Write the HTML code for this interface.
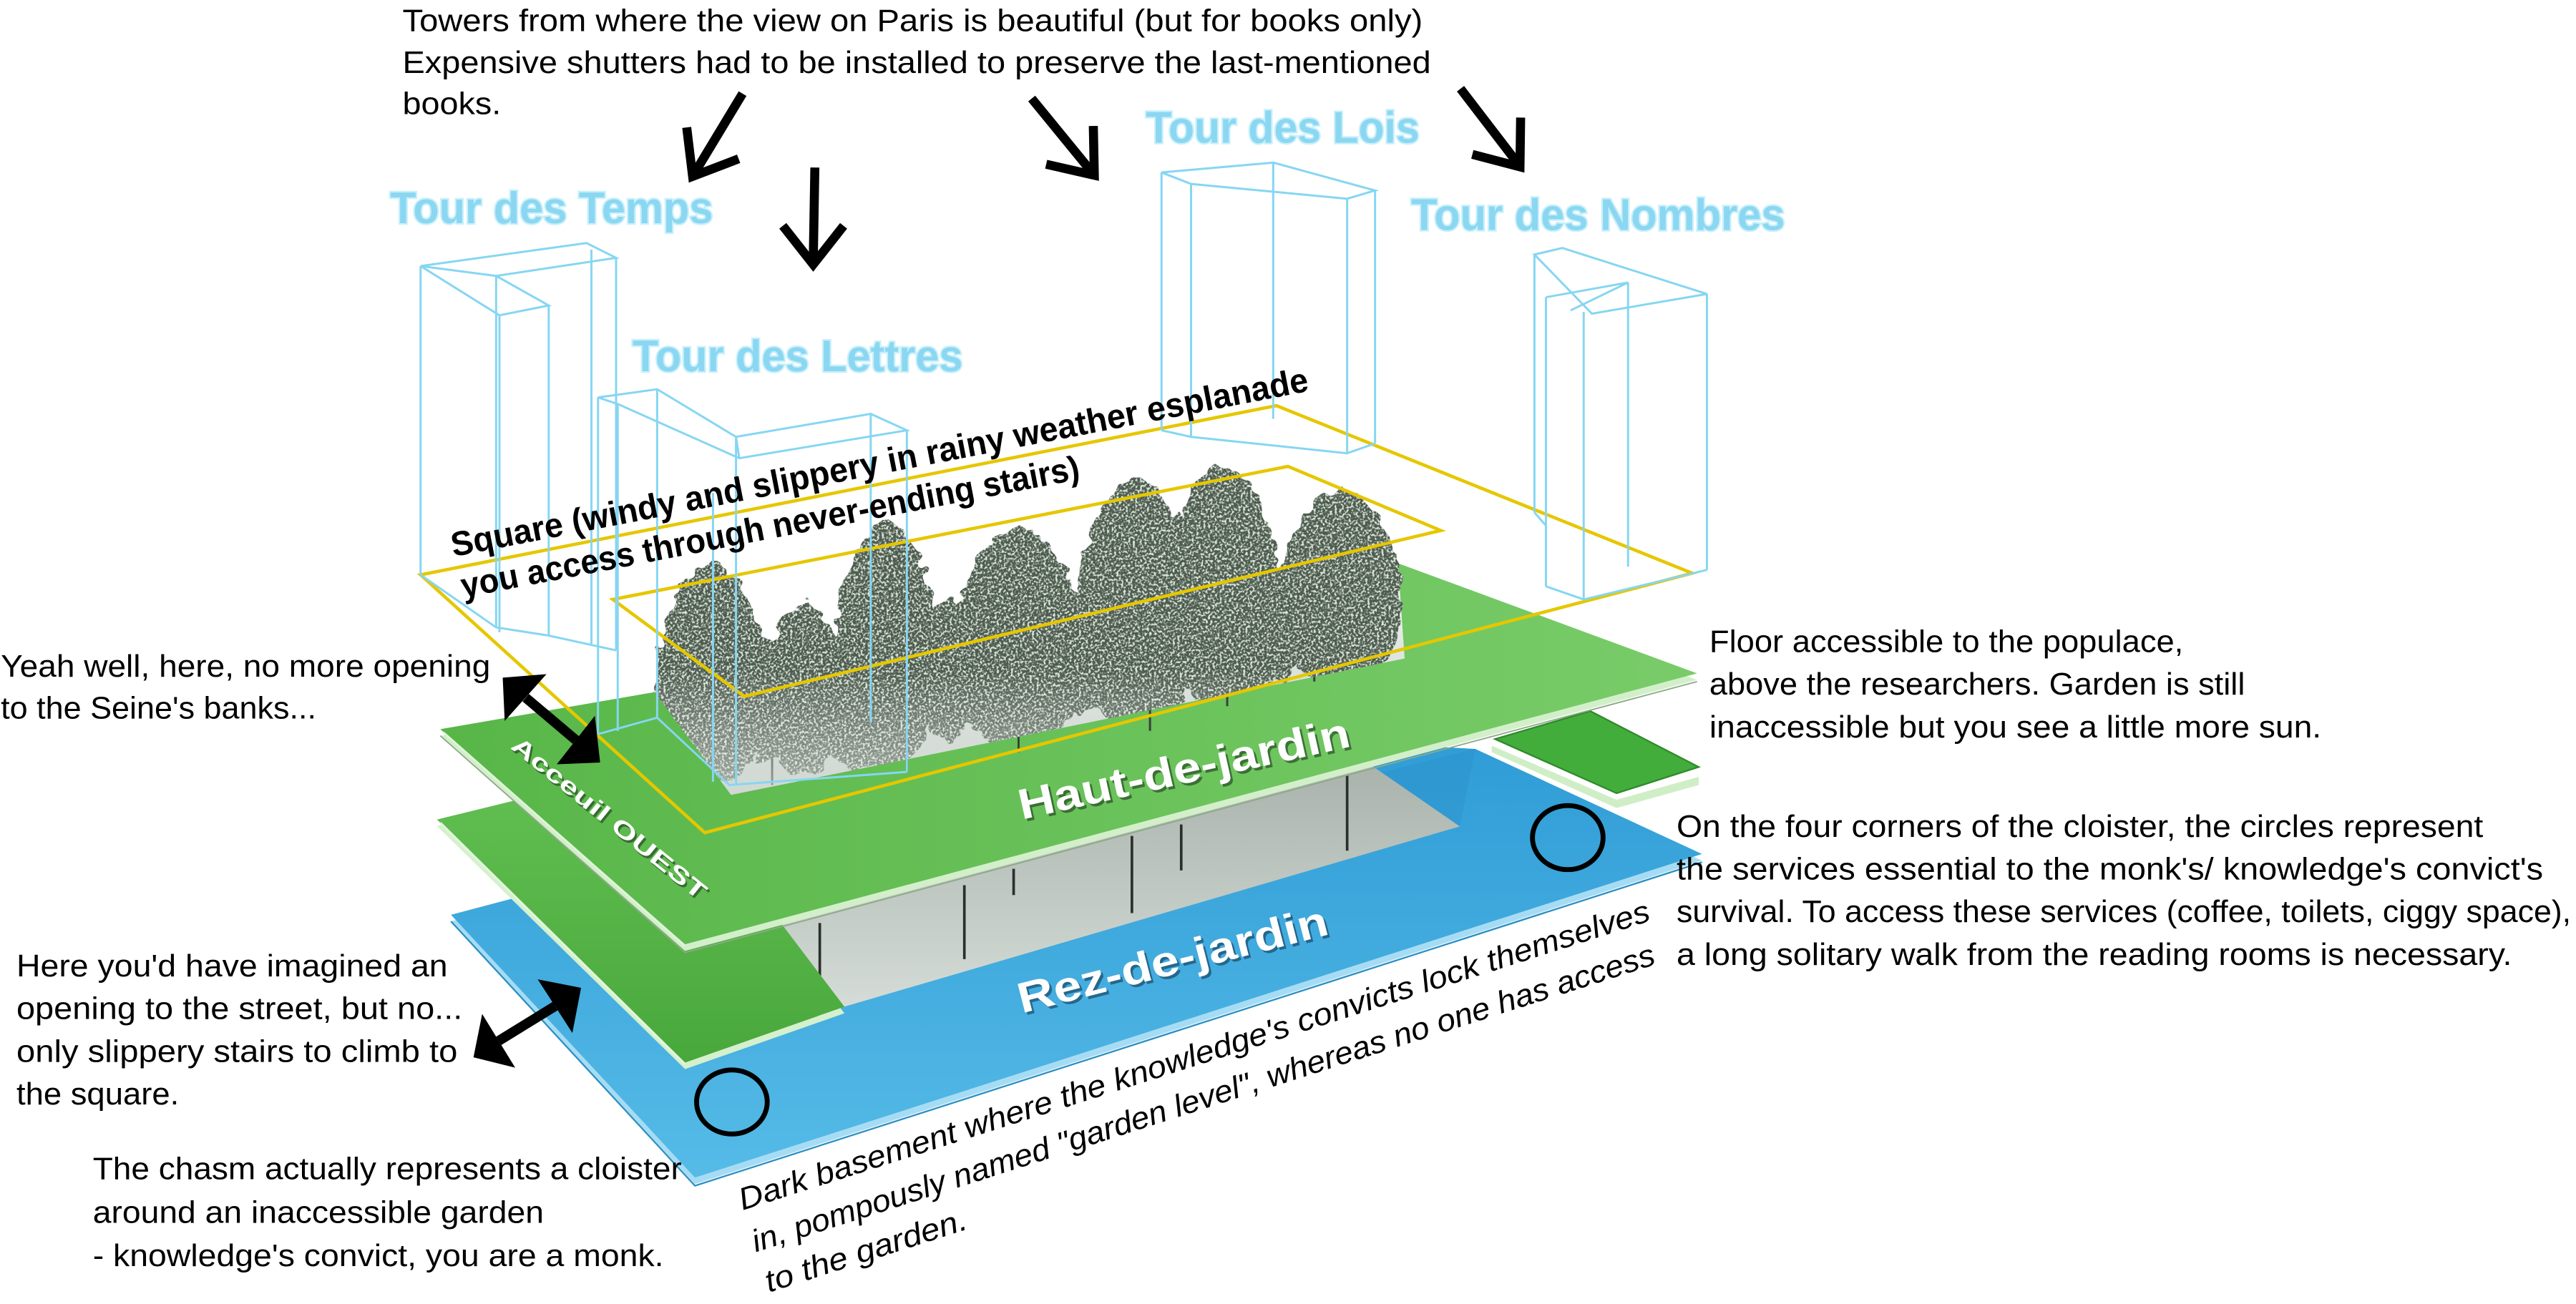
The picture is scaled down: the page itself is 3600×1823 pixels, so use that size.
<!DOCTYPE html>
<html><head><meta charset="utf-8"><style>html,body{margin:0;padding:0;background:#fff}svg{display:block}</style></head><body>
<svg xmlns="http://www.w3.org/2000/svg" width="3600" height="1823" viewBox="0 0 1568 794" preserveAspectRatio="none">
<defs>
<linearGradient id="gBlue" gradientUnits="userSpaceOnUse" x1="0" y1="450" x2="0" y2="720"><stop offset="0" stop-color="#2f9cd6"/><stop offset="1" stop-color="#56bbe7"/></linearGradient>
<linearGradient id="gUp" gradientUnits="userSpaceOnUse" x1="268" y1="0" x2="1033" y2="0"><stop offset="0" stop-color="#58b648"/><stop offset="1" stop-color="#79cc69"/></linearGradient>
<linearGradient id="gLow" gradientUnits="userSpaceOnUse" x1="0" y1="490" x2="0" y2="645"><stop offset="0" stop-color="#60bd50"/><stop offset="1" stop-color="#49a83c"/></linearGradient>
<linearGradient id="gHole" gradientUnits="userSpaceOnUse" x1="0" y1="345" x2="0" y2="484"><stop offset="0" stop-color="#f4f6f4"/><stop offset="1" stop-color="#bfc9c1"/></linearGradient>
<linearGradient id="gGray" gradientUnits="userSpaceOnUse" x1="0" y1="460" x2="0" y2="613"><stop offset="0" stop-color="#a7b1aa"/><stop offset="1" stop-color="#d5dcd7"/></linearGradient>
<linearGradient id="gFade" gradientUnits="userSpaceOnUse" x1="0" y1="300" x2="0" y2="480"><stop offset="0" stop-color="#fff" stop-opacity="0"/><stop offset="0.6" stop-color="#fff" stop-opacity="0"/><stop offset="1" stop-color="#dfe5e0" stop-opacity="0.55"/></linearGradient>
<clipPath id="cTree"><polygon points="398,421 398,240 880,240 855,401 445,484"/></clipPath>
<filter id="fol" x="-5%" y="-5%" width="110%" height="110%" color-interpolation-filters="sRGB">
<feTurbulence type="fractalNoise" baseFrequency="0.12" numOctaves="2" seed="4" result="n1"/>
<feDisplacementMap in="SourceGraphic" in2="n1" scale="10" xChannelSelector="R" yChannelSelector="G" result="d"/>
<feTurbulence type="fractalNoise" baseFrequency="0.7" numOctaves="2" seed="9" result="n2"/>
<feColorMatrix in="n2" type="matrix" values="0 0 0 0 0.86  0 0 0 0 0.9  0 0 0 0 0.86  5 0 0 0 -2.35" result="spk"/>
<feComposite in="spk" in2="d" operator="in" result="spk2"/>
<feMerge><feMergeNode in="d"/><feMergeNode in="spk2"/></feMerge>
</filter>
</defs>
<rect x="0" y="0" width="1568" height="794" fill="#fff"/>

<!-- BLUE Rez-de-jardin -->
<polygon points="274.5,561 320,549 600,444 898,460 1036,524 423,721" fill="#a6dcf3"/>
<polyline points="274.5,561 423,722 1036,525" fill="none" stroke="#2a8fc4" stroke-width="1"/>
<polygon points="274.5,557 320,545 600,440 898,456 1036,520 423,717" fill="url(#gBlue)"/>
<polygon points="826,474 888.6,503.2 898,456" fill="#2a8cc6" opacity="0.35"/>
<!-- gray lower hole -->
<polygon points="430,540 513.8,613 888.6,503.2 826,460 600,470" fill="url(#gGray)"/>
<g stroke="#2b302c" stroke-width="1.6">
<line x1="499" y1="562" x2="499" y2="604"/>
<line x1="587" y1="539" x2="587" y2="584"/>
<line x1="617" y1="529" x2="617" y2="545"/>
<line x1="689" y1="509" x2="689" y2="556"/>
<line x1="719" y1="502" x2="719" y2="530"/>
<line x1="820" y1="472" x2="820" y2="518"/>
</g>

<!-- LOWER GREEN -->
<polygon points="266,503 311,492 340,484 470,559 514,617 417,651" fill="#d5f0cd"/>
<polygon points="266,499 311,488 340,480 470,555 514,613 417,647" fill="url(#gLow)"/>
<line x1="268" y1="501" x2="417" y2="648" stroke="#e2f6dc" stroke-width="1.4"/>
<polygon points="908,454 984,487 1034,473 1034,478 984,492 908,458" fill="#cfeec6"/>
<polygon points="910,450 968,433 1034,467 984,483" fill="#43ad3b" stroke="#2f8a2c" stroke-width="1"/>

<!-- UPPER GREEN Haut-de-jardin -->
<polygon points="268,448 417,579 1033,414 851,347" fill="#d2efca"/>
<polyline points="268,448 417,580 1033,415" fill="none" stroke="#8da889" stroke-width="0.8"/>
<polygon points="268,444 417,575 1033,410 851,343" fill="url(#gUp)"/>
<line x1="270" y1="446" x2="417" y2="576" stroke="#dff5d8" stroke-width="1.2"/>
<!-- upper hole -->
<polygon points="398,421 445,484 855,401 851,344" fill="url(#gHole)"/>
<g stroke="#3a403b" stroke-width="1.3">
<line x1="470" y1="440" x2="470" y2="478"/>
<line x1="552" y1="409" x2="552" y2="470"/>
<line x1="620" y1="416" x2="620" y2="458"/>
<line x1="700" y1="410" x2="700" y2="445"/>
<line x1="747" y1="396" x2="747" y2="430"/>
<line x1="800" y1="390" x2="800" y2="415"/>
</g>
<!-- trees -->
<g clip-path="url(#cTree)">
<g filter="url(#fol)" fill="#4d5b4e">
<path d="M433,342 C451.7,348.8 467,382.8 467,416.8 C467,450.8 453.4,478 433,478 C412.6,478 399,450.8 399,416.8 C399,382.8 414.3,348.8 433,342Z"/>
<path d="M490,366 C504.3,371.3 516,397.8 516,424.3 C516,450.8 505.6,472 490,472 C474.4,472 464,450.8 464,424.3 C464,397.8 475.7,371.3 490,366Z"/>
<path d="M540,316 C557.6,323.6 572,361.6 572,399.6 C572,437.6 559.2,468 540,468 C520.8,468 508,437.6 508,399.6 C508,361.6 522.4,323.6 540,316Z"/>
<path d="M620,320 C642,326.9 660,361.4 660,395.9 C660,430.4 644,458 620,458 C596,458 580,430.4 580,395.9 C580,361.4 598,326.9 620,320Z"/>
<path d="M692,290 C712.9,297.8 730,336.8 730,375.8 C730,414.8 714.8,446 692,446 C669.2,446 654,414.8 654,375.8 C654,336.8 671.1,297.8 692,290Z"/>
<path d="M744,282 C763.8,289.5 780,327 780,364.5 C780,402 765.6,432 744,432 C722.4,432 708,402 708,364.5 C708,327 724.2,289.5 744,282Z"/>
<path d="M816,297 C836.9,303.2 854,333.9 854,364.7 C854,395.4 838.8,420 816,420 C793.2,420 778,395.4 778,364.7 C778,333.9 795.1,303.2 816,297Z"/>
<ellipse cx="465" cy="425" rx="16" ry="38"/>
<ellipse cx="578" cy="408" rx="20" ry="42"/>
<ellipse cx="655" cy="398" rx="18" ry="38"/>
<ellipse cx="778" cy="385" rx="15" ry="32"/>
<ellipse cx="522" cy="440" rx="22" ry="28"/>
</g>
<rect x="398" y="280" width="470" height="210" fill="url(#gFade)"/>
</g>

<!-- YELLOW outlines -->
<g fill="none" stroke="#e5c700" stroke-width="2">
<polygon points="256,350 429,507 1030,349 777,247"/>
<polygon points="373,365 453,424 877,323 784,284"/>
</g>

<!-- TOWER wireframes -->
<g fill="none" stroke="#86d6f2" stroke-width="1.3">
<path d="M256,162 L357,148 L375,157 L302,168 Z M302,168 L334,186 L304,192 M256,162 L304,192 M256,162 V350 M302,168 V382 M304,192 V385 M334,186 V387 M360,152 V392 M375,157 V396 M256,350 L302,382 L334,387 L375,396"/>
<path d="M364,242 L400,237 L448,266 L530,252 L552,262 L450,279 L376,246 Z M448,266 L450,279 M364,242 V447 M376,246 V445 M400,237 V437 M434,300 V476 M448,266 V478 M530,252 V440 M552,262 V470 M364,447 L400,437 L444,478 L552,470"/>
<path d="M707,105 L775,99 L837,116 L820,121 L725,112 Z M707,105 V262 M725,112 V266 M775,99 V255 M820,121 V276 M837,116 V270 M707,262 L725,266 L820,276 L837,270"/>
<path d="M934,155 L951,151 L1039,179 L969,191 Z M941,181 L991,172 L956,189 M934,155 V312 M941,181 V357 M964,190 V365 M991,172 V345 M1039,179 V347 M941,357 L964,365 L1039,347 M934,312 L941,320"/>
</g>

<!-- Tower labels -->
<g font-family="'Liberation Sans', sans-serif" font-weight="bold" font-size="27" fill="#8bd7f2" stroke="#c9f0fb" stroke-width="2" paint-order="stroke">
<text x="237.5" y="136" textLength="196.5" lengthAdjust="spacingAndGlyphs">Tour des Temps</text>
<text x="385" y="226" textLength="201" lengthAdjust="spacingAndGlyphs">Tour des Lettres</text>
<text x="697.5" y="87" textLength="166.5" lengthAdjust="spacingAndGlyphs">Tour des Lois</text>
<text x="859" y="140" textLength="227.5" lengthAdjust="spacingAndGlyphs">Tour des Nombres</text>
</g>

<!-- Platform labels -->
<g font-family="'Liberation Sans', sans-serif" font-weight="bold" font-size="26">
<text transform="translate(623.5,500.5) rotate(-12.5)" x="0" y="0" textLength="206" lengthAdjust="spacingAndGlyphs" fill="#1d3a1d" opacity="0.6">Haut-de-jardin</text>
<text transform="translate(622,499) rotate(-12.5)" x="0" y="0" textLength="206" lengthAdjust="spacingAndGlyphs" fill="#ffffff">Haut-de-jardin</text>
<text transform="translate(623.5,618.5) rotate(-14.4)" x="0" y="0" textLength="194" lengthAdjust="spacingAndGlyphs" fill="#123a55" opacity="0.6">Rez-de-jardin</text>
<text transform="translate(622,617) rotate(-14.4)" x="0" y="0" textLength="194" lengthAdjust="spacingAndGlyphs" fill="#ffffff">Rez-de-jardin</text>
</g>
<g font-family="'Liberation Sans', sans-serif" font-weight="bold" font-size="14" text-anchor="middle">
<text transform="translate(372,499.5) rotate(39)" x="0" y="5" textLength="148" lengthAdjust="spacingAndGlyphs" fill="#1d3a1d" opacity="0.6">Acceuil OUEST</text>
<text transform="translate(371,498) rotate(39)" x="0" y="5" textLength="148" lengthAdjust="spacingAndGlyphs" fill="#ffffff">Acceuil OUEST</text>
</g>

<!-- Square text -->
<g font-family="'Liberation Sans', sans-serif" font-weight="bold" font-size="21" fill="#000">
<text transform="translate(276,339) rotate(-10.97)" x="0" y="0" textLength="531" lengthAdjust="spacingAndGlyphs">Square (windy and slippery in rainy weather esplanade</text>
<text transform="translate(282,364) rotate(-10.9)" x="0" y="0" textLength="383" lengthAdjust="spacingAndGlyphs">you access through never-ending stairs)</text>
</g>

<!-- Dark basement text -->
<g font-family="'Liberation Sans', sans-serif" font-style="italic" font-size="19" fill="#000">
<text transform="translate(452,737) rotate(-17.7)" x="0" y="0" textLength="581" lengthAdjust="spacingAndGlyphs">Dark basement where the knowledge's convicts lock themselves</text>
<text transform="translate(460,762.5) rotate(-17.75)" x="0" y="0" textLength="576" lengthAdjust="spacingAndGlyphs">in, pompously named "garden level", whereas no one has access</text>
<text transform="translate(468,787) rotate(-17.7)" x="0" y="0" textLength="128" lengthAdjust="spacingAndGlyphs">to the garden.</text>
</g>

<!-- Body text -->
<g font-family="'Liberation Sans Narrow', 'Liberation Sans', sans-serif" font-size="19" fill="#000">
<text x="245" y="19" textLength="621" lengthAdjust="spacingAndGlyphs">Towers from where the view on Paris is beautiful (but  for books only)</text>
<text x="245" y="44.5" textLength="626" lengthAdjust="spacingAndGlyphs">Expensive shutters had to be installed to preserve the last-mentioned</text>
<text x="245" y="69.5" textLength="60" lengthAdjust="spacingAndGlyphs">books.</text>

<text x="1040.5" y="397" textLength="288.5" lengthAdjust="spacingAndGlyphs">Floor accessible to the populace,</text>
<text x="1040.5" y="423" textLength="326" lengthAdjust="spacingAndGlyphs">above the researchers. Garden is still</text>
<text x="1040.5" y="449" textLength="372.5" lengthAdjust="spacingAndGlyphs">inaccessible but you see a little more sun.</text>

<text x="1020.5" y="509.5" textLength="491" lengthAdjust="spacingAndGlyphs">On the four corners of the cloister, the circles represent</text>
<text x="1020.5" y="535.5" textLength="527.5" lengthAdjust="spacingAndGlyphs">the services essential to the monk's/ knowledge's convict's</text>
<text x="1020.5" y="561.5" textLength="544.5" lengthAdjust="spacingAndGlyphs">survival. To access these services (coffee, toilets, ciggy space),</text>
<text x="1020.5" y="587.5" textLength="508.5" lengthAdjust="spacingAndGlyphs">a long solitary walk from the reading rooms is necessary.</text>

<text x="0.5" y="412" textLength="298" lengthAdjust="spacingAndGlyphs">Yeah well, here, no more opening</text>
<text x="0.5" y="437.5" textLength="192" lengthAdjust="spacingAndGlyphs">to the Seine's banks...</text>

<text x="10" y="594.5" textLength="262.5" lengthAdjust="spacingAndGlyphs">Here you'd have imagined an</text>
<text x="10" y="620.5" textLength="271.5" lengthAdjust="spacingAndGlyphs">opening to the street, but no...</text>
<text x="10" y="646.5" textLength="268.5" lengthAdjust="spacingAndGlyphs">only slippery stairs to climb to</text>
<text x="10" y="672.5" textLength="99" lengthAdjust="spacingAndGlyphs">the square.</text>

<text x="56.5" y="718" textLength="358.5" lengthAdjust="spacingAndGlyphs">The chasm actually represents a cloister</text>
<text x="56.5" y="744.5" textLength="274.5" lengthAdjust="spacingAndGlyphs">around an inaccessible garden</text>
<text x="56.5" y="771" textLength="347.5" lengthAdjust="spacingAndGlyphs">- knowledge's convict, you are a monk.</text>
</g>

<!-- Single arrows -->
<g fill="none" stroke="#000" stroke-width="5.5" stroke-linejoin="miter" stroke-miterlimit="10">
<line x1="452" y1="57" x2="421.5" y2="107.5"/>
<polyline points="418,77.6 421.6,107.4 449.6,96.7"/>
<line x1="496" y1="102" x2="495" y2="160"/>
<polyline points="476.5,137.5 495,161 513.5,137.5"/>
<line x1="628" y1="60" x2="666" y2="106.5"/>
<polyline points="665.5,76.7 666.1,106.7 636.8,100"/>
<line x1="889" y1="54" x2="925" y2="101"/>
<polyline points="925.6,71.6 925.2,101.6 896.2,94"/>
</g>

<!-- Double arrows -->
<g fill="#000">
<line x1="320" y1="424.8" x2="350.5" y2="450.6" stroke="#000" stroke-width="6"/>
<polygon points="306,412.6 332.6,410.5 307.2,439"/>
<polygon points="365.3,464.3 338.9,465.4 362.1,435.8"/>
<line x1="337.85" y1="612.65" x2="303.55" y2="633.75" stroke="#000" stroke-width="6"/>
<polygon points="353.7,601.5 327.3,596.3 348.4,629"/>
<polygon points="288.2,643.8 293.5,617.4 313.6,650.1"/>
</g>

<!-- Circles -->
<g fill="none" stroke="#000" stroke-width="3">
<ellipse cx="445.5" cy="671" rx="21.5" ry="19.5"/>
<ellipse cx="954.3" cy="510" rx="21.5" ry="19.5"/>
</g>
</svg>
</body></html>
